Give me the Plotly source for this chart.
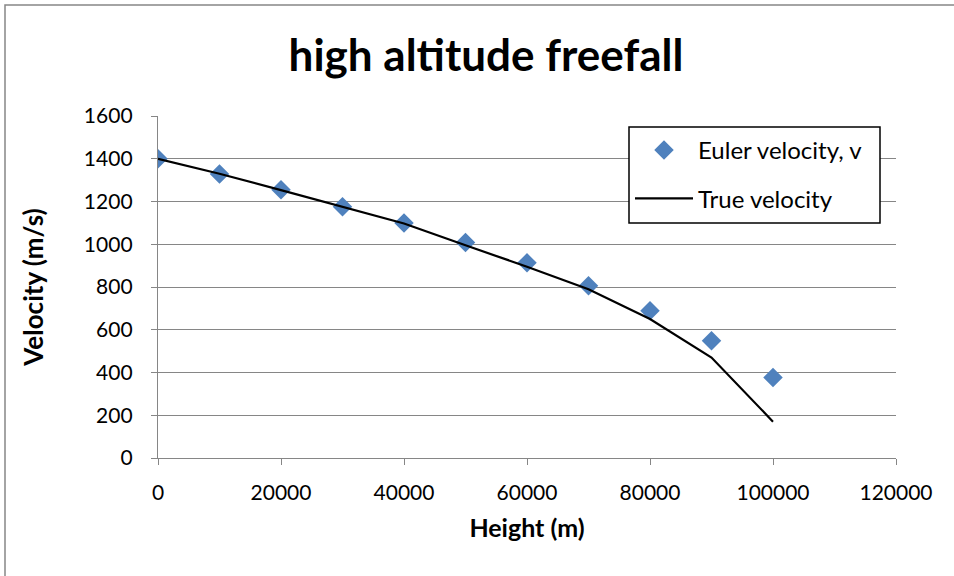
import plotly.graph_objects as go

# Heights (m) at which velocity is sampled
height_m = [0, 10000, 20000, 30000, 40000, 50000, 60000, 70000, 80000, 90000, 100000]

# Velocity from the Euler step method (m/s)
euler_velocity = [1400, 1329, 1255, 1176, 1099, 1008, 913, 806, 689, 548, 377]

# Analytical (true) velocity (m/s)
true_velocity = [1400, 1330, 1253, 1174, 1097, 995, 895, 790, 650, 470, 170]

x_ticks = [0, 20000, 40000, 60000, 80000, 100000, 120000]
y_ticks = [0, 200, 400, 600, 800, 1000, 1200, 1400, 1600]

W, H = 954, 576
ML, MR, MT, MB = 158, 58, 116, 118
PW, PH = W - ML - MR, H - MT - MB

FONT = "Lato"
AXIS_GREY = "#868686"

fig = go.Figure()

fig.add_trace(go.Scatter(
    x=height_m, y=euler_velocity, mode="markers",
    name="Euler velocity, v", legendgroup="a",
    marker=dict(symbol="diamond", size=15, color="#4F81BD", line=dict(width=0)),
))
fig.add_trace(go.Scatter(
    x=height_m, y=true_velocity, mode="lines",
    name="True velocity", legendgroup="b",
    line=dict(color="black", width=2.2),
))


def px_to_paper_x(px):
    return (px - ML) / PW


def px_to_paper_y(py):
    return (H - MB - py) / PH


# Outer chart frame (top and left edges are inside the page)
fig.add_shape(
    type="rect", xref="paper", yref="paper",
    x0=px_to_paper_x(5), x1=px_to_paper_x(W + 10),
    y0=px_to_paper_y(H + 10), y1=px_to_paper_y(5),
    line=dict(color=AXIS_GREY, width=1.5), fillcolor="rgba(0,0,0,0)",
    layer="below",
)

# Legend frame, a little wider than the legend's own box
fig.add_shape(
    type="rect", xref="paper", yref="paper",
    x0=px_to_paper_x(629), x1=px_to_paper_x(880),
    y0=px_to_paper_y(223), y1=px_to_paper_y(127),
    line=dict(color="black", width=1.5), fillcolor="white",
    layer="above",
)

fig.update_layout(
    width=W, height=H,
    margin=dict(l=ML, r=MR, t=MT, b=MB),
    paper_bgcolor="white", plot_bgcolor="white",
    font=dict(family=FONT, size=21, color="black"),
    title=dict(
        text="<b>high altitude freefall</b>",
        font=dict(family=FONT, size=44, color="black"),
        x=px_to_paper_x(486), xref="paper", xanchor="center",
        y=1 - 56 / H, yref="container", yanchor="middle",
    ),
    legend=dict(
        x=px_to_paper_x(630), y=px_to_paper_y(128),
        xanchor="left", yanchor="top",
        bgcolor="rgba(0,0,0,0)", borderwidth=0,
        font=dict(family=FONT, size=24, color="black"),
        tracegroupgap=14, traceorder="grouped",
        itemwidth=58,
    ),
    showlegend=True,
)

fig.update_xaxes(
    range=[0, 120000], tickvals=x_ticks, ticktext=[str(v) for v in x_ticks],
    showgrid=False, zeroline=False,
    showline=True, linecolor=AXIS_GREY, linewidth=1.4,
    ticks="outside", ticklen=6, tickcolor=AXIS_GREY, tickwidth=1.4,
    ticklabelstandoff=10,
    tickfont=dict(family=FONT, size=21, color="black"),
    title=dict(text="<b>Height (m)</b>", font=dict(family=FONT, size=25, color="black"), standoff=16),
)
fig.update_yaxes(
    range=[0, 1600], tickvals=y_ticks, ticktext=[str(v) for v in y_ticks],
    showgrid=True, gridcolor=AXIS_GREY, gridwidth=1.4, zeroline=False,
    showline=True, linecolor=AXIS_GREY, linewidth=1.4,
    ticks="outside", ticklen=6, tickcolor=AXIS_GREY, tickwidth=1.4,
    ticklabelstandoff=14,
    tickfont=dict(family=FONT, size=21, color="black"),
    title=dict(text="<b>Velocity (m/s)</b>", font=dict(family=FONT, size=26, color="black"), standoff=32),
)

fig.write_html("out.html")
